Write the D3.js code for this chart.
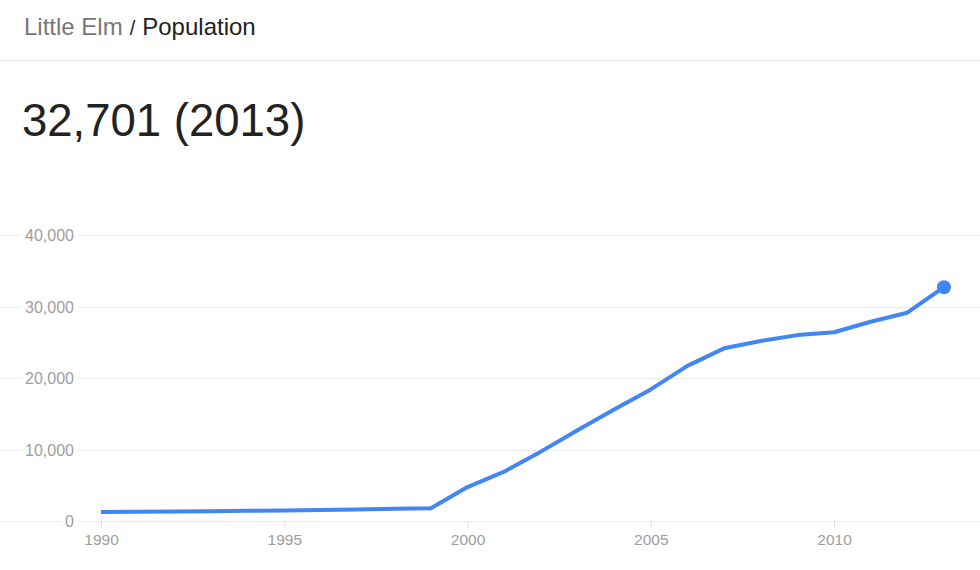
<!DOCTYPE html>
<html>
<head>
<meta charset="utf-8">
<script src="https://cdn.jsdelivr.net/npm/d3@7"></script>
<style>
  body { margin: 0; background: #fff; }
  svg text { font-family: "Liberation Sans", Arial, sans-serif; }
</style>
</head>
<body>
<div id="chart"></div>
<script>
// population values
var years = [1990, 1991, 1992, 1993, 1994, 1995, 1996, 1997, 1998, 1999, 2000, 2001,
             2002, 2003, 2004, 2005, 2006, 2007, 2008, 2009, 2010, 2011, 2012, 2013];
var population = [1255, 1290, 1330, 1380, 1430, 1480, 1550, 1620, 1700, 1790, 4750, 6900,
                  9700, 12700, 15600, 18400, 21700, 24150, 25170, 26000, 26400, 27870, 29130, 32701];
var yTicks = [0, 10000, 20000, 30000, 40000];
var xTicks = [1990, 1995, 2000, 2005, 2010];

var width = 980,
    height = 570;

var data = years.map(function(y, i) { return {year: y, value: population[i]}; });

var svg = d3.select("#chart")
    .append("svg")
    .attr("width", width)
    .attr("height", height);

// header
var head = svg.append("text")
    .attr("x", 24)
    .attr("y", 35)
    .style("font-size", "24px");
head.append("tspan").attr("fill", "#777").text("Little Elm");
head.append("tspan").attr("fill", "#222").style("font-size", "20px").attr("dx", 7).text("/");
head.append("tspan").attr("fill", "#222").attr("dx", 7).text("Population");

svg.append("line")
    .attr("x1", 0).attr("x2", width)
    .attr("y1", 60.5).attr("y2", 60.5)
    .attr("stroke", "#e5e5e5");

svg.append("text")
    .attr("x", 22)
    .attr("y", 136)
    .attr("fill", "#222")
    .style("font-size", "45.5px")
    .text(d3.format(",")(population[population.length - 1]) + " (" + years[years.length - 1] + ")");

var x = d3.scaleLinear().domain([1990, 2010]).range([101, 834]);
var y = d3.scaleLinear().domain([0, 40000]).range([521, 235]);

// gridlines across the full width
svg.append("g")
    .selectAll("line")
    .data(yTicks)
    .enter().append("line")
    .attr("x1", 0).attr("x2", width)
    .attr("y1", function(d) { return Math.round(y(d)) + 0.5; })
    .attr("y2", function(d) { return Math.round(y(d)) + 0.5; })
    .attr("stroke", "#ebebeb");

// y labels with white backing
var yl = svg.append("g").selectAll("g")
    .data(yTicks)
    .enter().append("g")
    .attr("transform", function(d) { return "translate(74," + (Math.round(y(d)) + 0.5) + ")"; });
yl.append("text")
    .attr("text-anchor", "end")
    .attr("dy", "0.35em")
    .attr("fill", "#9e9e9e")
    .style("font-size", "16px")
    .text(function(d) { return d3.format(",")(d); })
    .each(function() {
        var b = this.getBBox();
        d3.select(this.parentNode).insert("rect", "text")
            .attr("x", b.x - 4).attr("y", -4)
            .attr("width", b.width + 7).attr("height", 8)
            .attr("fill", "#fff");
    });

// x axis ticks + labels
var xa = svg.append("g").attr("transform", "translate(0,521)")
    .call(d3.axisBottom(x).tickValues(xTicks).tickFormat(d3.format("d")).tickSize(7).tickPadding(6));
xa.select(".domain").remove();
xa.selectAll("line").attr("stroke", "#e0e0e0");
xa.selectAll("text").attr("fill", "#9e9e9e").style("font-size", "15.5px")
    .style("font-family", "'Liberation Sans', Arial, sans-serif");

var line = d3.line()
    .x(function(d) { return x(d.year); })
    .y(function(d) { return y(d.value); });

svg.append("path")
    .datum(data)
    .attr("fill", "none")
    .attr("stroke", "#4285f4")
    .attr("stroke-width", 4)
    .attr("stroke-linejoin", "round")
    .attr("d", line);

var last = data[data.length - 1];
svg.append("circle")
    .attr("cx", x(last.year))
    .attr("cy", y(last.value))
    .attr("r", 7)
    .attr("fill", "#4285f4");
</script>
</body>
</html>
